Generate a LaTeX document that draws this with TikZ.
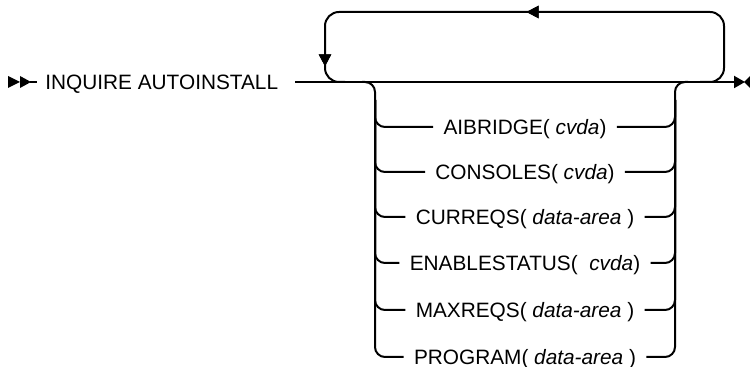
\documentclass[tikz,border=0pt]{standalone}
\usepackage{fontspec}
\setmainfont{Liberation Sans}
\usetikzlibrary{arrows.meta,decorations.markings}

\tikzset{
  rail/.style={line width=1pt, rounded corners=5pt},
  kw/.style={font=\fontsize{10.4}{12}\selectfont, inner sep=0pt, text height=7.4pt, text depth=0pt},
  tip/.style={-{Triangle[length=5.5pt,width=6pt]}},
  midtip/.style={postaction={decorate}, decoration={markings,
      mark=at position #1 with {\arrow{Triangle[length=6pt,width=6pt]}}}},
}

\begin{document}
\begin{tikzpicture}[x=0.5pt,y=-0.5pt]
\useasboundingbox (0,0) rectangle (750,367);

% Start and end markers
\fill (8,76) -- (20,82) -- (8,88) -- cycle;
\fill (20,76) -- (31,82) -- (20,88) -- cycle;
\coordinate (start) at (30,82);
\fill (750,76) -- (744,82) -- (750,88) -- cycle;

% Command name and main line
\node[kw, anchor=west] (cmd) at (45,82) {INQUIRE AUTOINSTALL};
\draw[line width=1pt] (start) -- ([xshift=-4pt]cmd.west);
\coordinate (in) at (295,82);
\coordinate (out) at (745,82);
\draw[line width=1pt, tip] (in) -- (out);

% Repeat loop
\draw[rail, rounded corners=7pt, midtip=0.5, midtip=0.947]
  (700,82) -| (724,12) -| (325,82) -- (345,82);

% Options
\node[kw] (aibridge) at (525,127) {AIBRIDGE( \textit{cvda})};
\node[kw] (consoles) at (525,172) {CONSOLES( \textit{cvda})};
\node[kw] (curreqs) at (525,217) {CURREQS( \textit{data-area} )};
\node[kw] (enablestatus) at (525,263) {ENABLESTATUS(\ \ \textit{cvda})};
\node[kw] (maxreqs) at (525,310) {MAXREQS( \textit{data-area} )};
\node[kw] (program) at (525,357) {PROGRAM( \textit{data-area} )};

% Left rail
\draw[rail] (362,82) -| (375,357) -- ([xshift=-5pt]program.west);
\foreach \opt in {aibridge,consoles,curreqs,enablestatus,maxreqs}
  \draw[rail] (375,100) |- ([xshift=-5pt]\opt.west);

% Right rail
\draw[rail] ([xshift=5pt]program.east) -| (675,82) -- (688,82);
\foreach \opt in {aibridge,consoles,curreqs,enablestatus,maxreqs}
  \draw[rail] ([xshift=5pt]\opt.east) -| (675,100);
\end{tikzpicture}
\end{document}
